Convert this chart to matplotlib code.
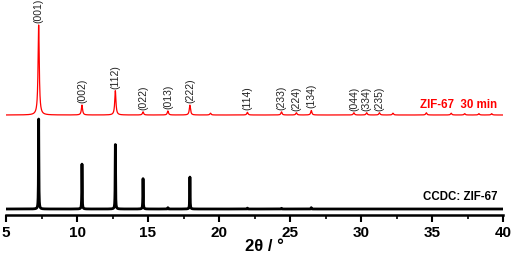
"""
XRD pattern: ZIF-67 (30 min) vs. simulated CCDC ZIF-67 reference.
"""
import numpy as np
import matplotlib.pyplot as plt
from matplotlib.ticker import MultipleLocator

# ---- data (peak positions in 2theta, relative intensities in %) ----
sample_pos = [7.3, 10.35, 12.7, 14.65, 16.4, 17.95, 19.4, 22.0, 24.4, 25.45,
              26.5, 29.5, 30.4, 31.3, 32.25, 34.6, 36.35, 37.3, 38.3, 39.2]
sample_int = [100, 11, 27, 3.5, 4.5, 11, 2, 3, 3.5, 2.5,
              5, 2.5, 2.5, 2.5, 2, 2.5, 2, 1.5, 1.5, 1.5]
sample_width = 0.05

ref_pos = [7.3, 10.35, 12.7, 14.65, 16.4, 17.95, 22.0, 24.4, 26.5]
ref_int = [100, 50, 72, 34, 1.5, 36, 1, 0.8, 1.5]
ref_width = 0.015

hkl_labels = ["(001)", "(002)", "(112)", "(022)", "(013)", "(222)", "(114)",
              "(233)", "(224)", "(134)", "(044)", "(334)", "(235)"]
hkl_pos = [7.3, 10.35, 12.7, 14.65, 16.4, 17.95, 22.0,
           24.4, 25.45, 26.5, 29.5, 30.4, 31.3]
hkl_int = [100, 11, 27, 3.5, 4.5, 11, 3, 3.5, 2.5, 5, 2.5, 2.5, 2.5]

x_ticks = [5, 10, 15, 20, 25, 30, 35, 40]


def pattern(x, pos, inten, w):
    y = np.zeros_like(x)
    for p, h in zip(pos, inten):
        y += h / (1 + ((x - p) / w) ** 2)
    return y


plt.rcParams.update({
    "font.family": ["Liberation Sans", "DejaVu Sans"],
    "font.weight": "bold",
})

SCALE = 0.9
RED_OFF = 100
BLACK_OFF = 6

x = np.linspace(5, 40, 7000)
y_red = RED_OFF + SCALE * pattern(x, sample_pos, sample_int, sample_width)
y_blk = BLACK_OFF + SCALE * pattern(x, ref_pos, ref_int, ref_width)

fig = plt.figure(figsize=(5.12, 2.55), dpi=100)
ax = fig.add_axes([6 / 512, 39 / 255, 497 / 512, 216 / 255])

ax.plot(x, y_red, color="#ff0000", lw=0.9)
ax.plot(x, y_blk, color="black", lw=2.0)

for lab, p, h in zip(hkl_labels, hkl_pos, hkl_int):
    ax.text(p, RED_OFF + SCALE * h + 3, lab, rotation=90, ha="center",
            va="bottom", fontsize=7.5, fontweight="normal", color="#222222")

ax.text(39.6, 105, "ZIF-67  30 min", color="#ff0000", fontsize=8.3,
        fontweight="bold", ha="right", va="bottom")
ax.text(39.6, 13, "CCDC: ZIF-67", color="black", fontsize=8.3,
        fontweight="bold", ha="right", va="bottom")

ax.set_xlim(5, 40)
ax.set_ylim(0, 216)
ax.set_xticks(x_ticks)
ax.xaxis.set_minor_locator(MultipleLocator(2.5))
ax.tick_params(axis="x", which="major", direction="out", length=5, width=1.5,
               labelsize=11, pad=2)
ax.tick_params(axis="x", which="minor", direction="out", length=3, width=1.2)
ax.set_yticks([])
for s in ["top", "right", "left"]:
    ax.spines[s].set_visible(False)
ax.spines["bottom"].set_linewidth(1.8)
for t in ax.get_xticklabels():
    t.set_fontweight("bold")

ax.set_xlabel("2θ / °", fontsize=12, fontweight="bold")
ax.xaxis.set_label_coords(0.521, -0.105)

fig.savefig("out.png", dpi=100, facecolor="white")
